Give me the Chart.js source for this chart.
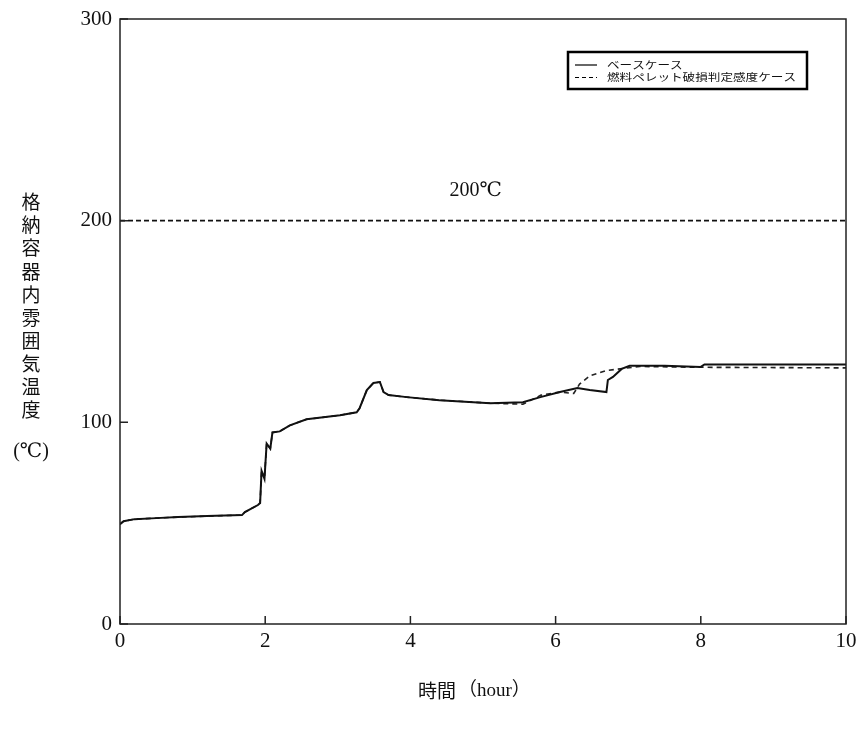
<!DOCTYPE html>
<html>
<head>
<meta charset="utf-8">
<script src="https://cdn.jsdelivr.net/npm/chart.js@4/dist/chart.umd.min.js"></script>
<style>
html,body{margin:0;padding:0;background:#fff;}
#wrap{width:861px;height:729px;}
</style>
</head>
<body>
<div id="wrap"><canvas id="c" width="861" height="729"></canvas></div>
<script>
// ---- data ----
const baseTimes = [0, 0.05, 0.2, 0.5, 0.8, 1.2, 1.68, 1.72, 1.9, 1.93, 1.95, 1.99, 2.02, 2.07, 2.1, 2.2, 2.34, 2.57, 3.03, 3.26, 3.3, 3.4, 3.49, 3.58, 3.63, 3.7, 3.95, 4.4, 5.1, 5.55, 5.79, 6.06, 6.3, 6.47, 6.7, 6.72, 6.79, 6.91, 7.02, 7.5, 8.0, 8.05, 10];
const baseTemps = [49.5, 51, 52, 52.5, 53, 53.5, 54, 55.5, 59, 60, 76, 72, 89.5, 87, 95, 95.5, 98.5, 101.5, 103.5, 105, 107, 116, 119.5, 120, 115, 113.5, 112.5, 111, 109.5, 110, 112.5, 115, 117, 116, 115, 121, 122.5, 126.5, 128, 128, 127.5, 128.7, 128.7];
const sensTimes = [0, 0.05, 0.2, 0.5, 0.8, 1.2, 1.68, 1.72, 1.9, 1.93, 1.95, 1.99, 2.02, 2.07, 2.1, 2.2, 2.34, 2.57, 3.03, 3.26, 3.3, 3.4, 3.49, 3.58, 3.63, 3.7, 3.95, 4.4, 5.1, 5.55, 5.8, 6.06, 6.25, 6.33, 6.47, 6.7, 6.93, 7.16, 8.0, 10];
const sensTemps = [49.5, 51, 52, 52.5, 53, 53.5, 54, 55.5, 59, 60, 76, 72, 89.5, 87, 95, 95.5, 98.5, 101.5, 103.5, 105, 107, 116, 119.5, 120, 115, 113.5, 112.5, 111, 109.5, 109, 113.5, 115, 114.3, 119, 123, 125.7, 126.7, 127.7, 127.3, 127];
const limitTimes = [0, 10];
const limitTemps = [200, 200];
const xTicks = [0, 2, 4, 6, 8, 10];
const yTicks = [0, 100, 200, 300];
const seriesNames = ["ベースケース", "燃料ペレット破損判定感度ケース"];
const yTitleChars = ["格","納","容","器","内","雰","囲","気","温","度"];
const yTitleUnit = "(℃)";
const xTitleMain = "時間";
const xTitleUnit = "（hour）";
const limitLabel = "200℃";

const toXY = (ts, vs) => ts.map((t, i) => ({x: t, y: vs[i]}));
const SERIF = "'Liberation Serif', 'DejaVu Serif', 'Noto Sans CJK JP', serif";
const CJK = "'Noto Sans CJK JP', sans-serif";

const deco = {
  id: 'deco',
  afterDraw(chart) {
    const {ctx, chartArea: a, scales} = chart;
    ctx.save();
    // frame
    ctx.strokeStyle = '#222';
    ctx.lineWidth = 1.5;
    ctx.strokeRect(a.left, a.top, a.right - a.left, a.bottom - a.top);
    // inward ticks
    ctx.beginPath();
    xTicks.forEach(v => {
      const px = scales.x.getPixelForValue(v);
      ctx.moveTo(px, a.bottom); ctx.lineTo(px, a.bottom - 8);
    });
    yTicks.forEach(v => {
      const py = scales.y.getPixelForValue(v);
      ctx.moveTo(a.left, py); ctx.lineTo(a.left + 8, py);
    });
    ctx.stroke();
    // limit label
    ctx.fillStyle = '#111';
    ctx.textAlign = 'center';
    ctx.textBaseline = 'middle';
    ctx.font = '20px ' + SERIF;
    ctx.fillText(limitLabel, scales.x.getPixelForValue(4.9), scales.y.getPixelForValue(215));
    // y title
    ctx.font = '19px ' + CJK;
    yTitleChars.forEach((ch, i) => ctx.fillText(ch, 31, 202 + i * 23.1));
    ctx.font = '20px ' + SERIF;
    ctx.fillText(yTitleUnit, 31, 452);
    // x title
    ctx.textAlign = 'left';
    ctx.font = '19px ' + CJK;
    ctx.fillText(xTitleMain, 418, 691);
    ctx.font = '19px ' + SERIF;
    ctx.fillText(xTitleUnit, 458, 691);
    // legend
    const lx = 568, ly = 52, lw = 239, lh = 37;
    ctx.lineWidth = 2.5;
    ctx.strokeStyle = '#000';
    ctx.strokeRect(lx, ly, lw, lh);
    ctx.lineWidth = 1.2;
    ctx.beginPath(); ctx.setLineDash([]);
    ctx.moveTo(575, 65); ctx.lineTo(597, 65); ctx.stroke();
    ctx.beginPath(); ctx.setLineDash([4, 3]);
    ctx.moveTo(575, 77.5); ctx.lineTo(597, 77.5); ctx.stroke();
    ctx.setLineDash([]);
    ctx.font = '10.5px ' + CJK;
    ctx.save();
    ctx.translate(607, 0);
    ctx.scale(1.2, 1);
    ctx.fillText(seriesNames[0], 0, 65);
    ctx.fillText(seriesNames[1], 0, 77.5);
    ctx.restore();
    ctx.restore();
  }
};

new Chart(document.getElementById('c'), {
  type: 'line',
  data: {
    datasets: [
      {label: seriesNames[0], data: toXY(baseTimes, baseTemps), borderColor: '#111', borderWidth: 2, pointRadius: 0, tension: 0, fill: false},
      {label: seriesNames[1], data: toXY(sensTimes, sensTemps), borderColor: '#222', borderWidth: 1.6, borderDash: [5, 4], pointRadius: 0, tension: 0, fill: false},
      {label: 'limit', data: toXY(limitTimes, limitTemps), borderColor: '#111', borderWidth: 1.6, borderDash: [5, 3], pointRadius: 0, fill: false}
    ]
  },
  options: {
    responsive: false,
    animation: false,
    layout: {padding: {top: 19, right: 15, left: 0, bottom: 0}},
    plugins: {legend: {display: false}, tooltip: {enabled: false}},
    scales: {
      x: {
        type: 'linear', min: 0, max: 10,
        afterBuildTicks: s => { s.ticks = xTicks.map(v => ({value: v})); },
        afterFit: s => { s.height = 105; },
        grid: {display: false}, border: {display: false},
        ticks: {padding: -3, color: '#111', font: {family: SERIF, size: 21}, maxRotation: 0}
      },
      y: {
        type: 'linear', min: 0, max: 300,
        afterBuildTicks: s => { s.ticks = yTicks.map(v => ({value: v})); },
        afterFit: s => { s.width = 120; },
        grid: {display: false}, border: {display: false},
        ticks: {padding: 0, color: '#111', font: {family: SERIF, size: 21}}
      }
    }
  },
  plugins: [deco]
});
</script>
</body>
</html>
